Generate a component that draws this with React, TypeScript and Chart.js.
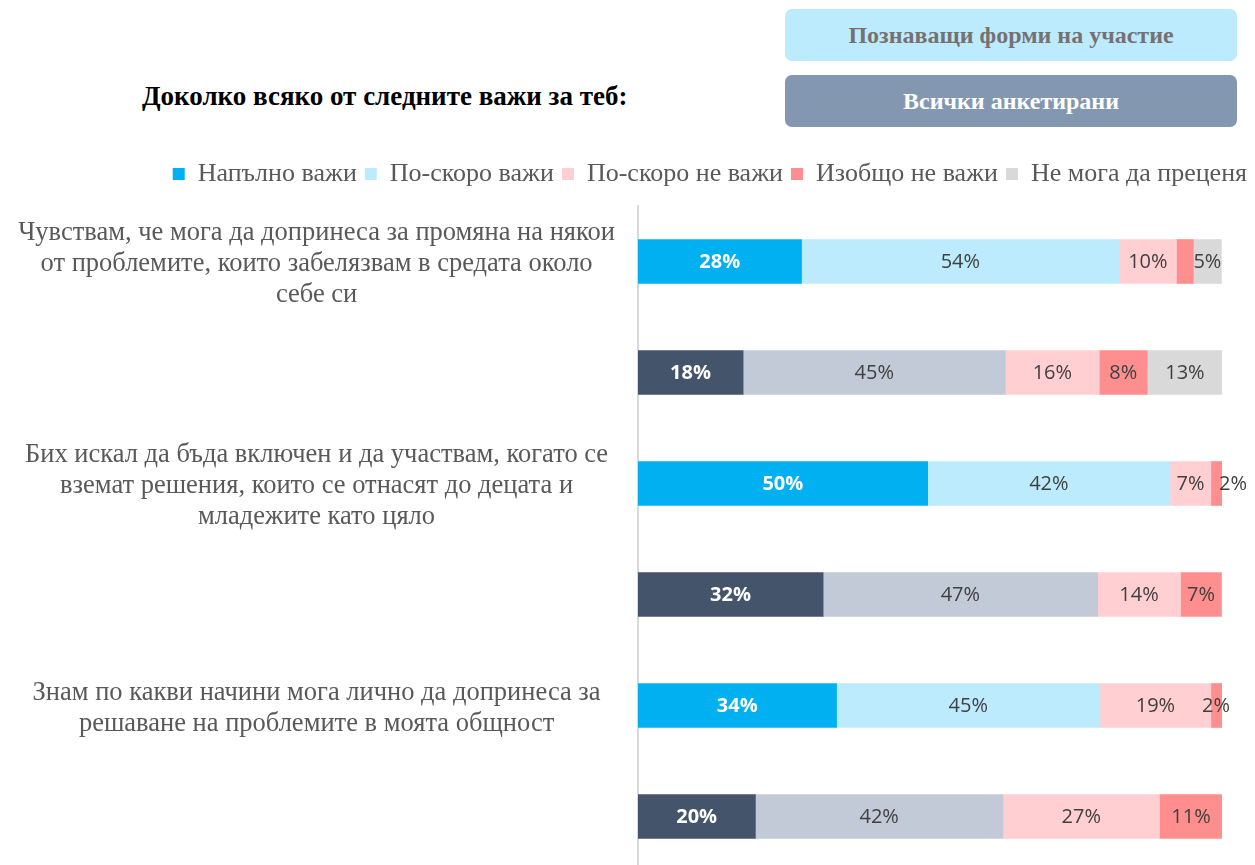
import React, { useEffect, useRef } from "react";
import { Chart, registerables } from "chart.js";

Chart.register(...registerables);

const categories: (string | string[])[] = [
  [
    "Чувствам, че мога да допринеса за промяна на някои",
    "от проблемите, които забелязвам в средата около",
    "себе си",
  ],
  "",
  [
    "Бих искал да бъда включен и да участвам, когато се",
    "вземат решения, които се отнасят до децата и",
    "младежите като цяло",
  ],
  "",
  [
    "Знам по какви начини мога лично да допринеса за",
    "решаване на проблемите в моята общност",
  ],
  "",
];

const seriesNames = [
  "Напълно важи",
  "По-скоро важи",
  "По-скоро не важи",
  "Изобщо не важи",
  "Не мога да преценя",
];

const fully = [28, 18, 49.6, 31.7, 34, 20.1];
const rather = [54.4, 44.9, 41.5, 47, 45.1, 42.4];
const ratherNot = [9.8, 16.1, 7, 14.2, 19, 26.8];
const notAtAll = [2.9, 8.2, 1.9, 7, 1.9, 10.8];
const cannotSay = [4.8, 12.9, 0, 0, 0, 0];

// labels not shown in the original: [datasetIndex, dataIndex]
const hiddenLabels: [number, number][] = [[3, 0]];

const headerTitle = "Доколко всяко от следните важи за теб:";
const groupA = "Познаващи форми на участие";
const groupB = "Всички анкетирани";

const fullyColors = ["#00B0F0", "#44546A"];
const ratherColors = ["#BDEBFE", "#C1CAD6"];

const SERIF = "'Liberation Serif', 'Times New Roman', serif";
const SANS = "'Open Sans', 'Noto Sans', sans-serif";

const labelPlugin = {
  id: "segLabels",
  afterDatasetsDraw(chart: any) {
    const ctx = chart.ctx;
    ctx.save();
    ctx.textBaseline = "middle";
    ctx.textAlign = "center";
    chart.data.datasets.forEach((ds: any, di: number) => {
      const meta = chart.getDatasetMeta(di);
      meta.data.forEach((el: any, i: number) => {
        const v = ds.data[i];
        if (!v) return;
        if (hiddenLabels.some(([a, b]) => a === di && b === i)) return;
        let cx = (el.x + el.base) / 2;
        const w = Math.abs(el.x - el.base);
        if (w < 14) cx = el.x + (di === 3 && i === 2 ? 11 : -6);
        ctx.font = di === 0 ? `bold 20px ${SANS}` : `20px ${SANS}`;
        ctx.fillStyle = di === 0 ? "#FFFFFF" : "#404040";
        ctx.fillText(Math.round(v) + "%", cx, el.y + 1);
      });
    });
    ctx.restore();
  },
};

export default function App() {
  const ref = useRef<HTMLCanvasElement | null>(null);

  useEffect(() => {
    if (!ref.current) return;
    const alt = (arr: string[]) => (c: any) => arr[(c.dataIndex ?? 0) % 2];
    const chart = new Chart(ref.current, {
      type: "bar",
      data: {
        labels: categories,
        datasets: [
          { label: seriesNames[0], data: fully, backgroundColor: alt(fullyColors) },
          { label: seriesNames[1], data: rather, backgroundColor: alt(ratherColors) },
          { label: seriesNames[2], data: ratherNot, backgroundColor: "#FFCFD1" },
          { label: seriesNames[3], data: notAtAll, backgroundColor: "#FF8F8F" },
          { label: seriesNames[4], data: cannotSay, backgroundColor: "#D9D9D9" },
        ],
      },
      options: {
        indexAxis: "y",
        responsive: false,
        animation: false,
        maintainAspectRatio: false,
        layout: { padding: 0 },
        datasets: { bar: { barThickness: 44, borderWidth: 0 } },
        plugins: {
          tooltip: { enabled: false },
          title: { display: false },
          legend: {
            position: "top",
            align: "end",
            labels: {
              boxWidth: 12,
              boxHeight: 12,
              padding: 8,
              color: "#595959",
              font: { family: SERIF, size: 26 },
            },
          },
        },
        scales: {
          x: {
            stacked: true,
            min: 0,
            max: 100,
            position: "top",
            display: true,
            grid: { display: false, drawTicks: false },
            border: { display: false },
            ticks: { display: false },
            afterFit(scale: any) {
              scale.height = 9;
              scale.paddingLeft = 0;
              scale.paddingRight = 0;
            },
          },
          y: {
            stacked: true,
            grid: { display: false, drawTicks: false },
            border: { display: true, color: "#D9D9D9", width: 2 },
            ticks: {
              crossAlign: "center",
              padding: 23,
              labelOffset: 3,
              color: "#595959",
              font: { family: SERIF, size: 26.5, lineHeight: 1.17 },
            },
            afterFit(scale: any) {
              scale.width = 638;
              scale.paddingTop = 0;
              scale.paddingBottom = 0;
            },
          },
          yRight: {
            type: "linear",
            position: "right",
            display: true,
            grid: { display: false, drawTicks: false },
            border: { display: false },
            ticks: { display: false },
            afterFit(scale: any) {
              scale.width = 33;
              scale.paddingTop = 0;
              scale.paddingBottom = 0;
            },
          },
        },
      },
      plugins: [labelPlugin],
    } as any);
    return () => chart.destroy();
  }, []);

  const box: React.CSSProperties = {
    position: "absolute",
    left: 785,
    width: 452,
    height: 52,
    borderRadius: 7,
    display: "flex",
    alignItems: "center",
    justifyContent: "center",
    fontFamily: SERIF,
    fontWeight: "bold",
    fontSize: 24,
  };

  return (
    <div
      style={{
        position: "absolute",
        left: 0,
        top: 0,
        width: 1255,
        height: 865,
        overflow: "hidden",
        background: "#FFFFFF",
      }}
    >
      <div
        style={{
          position: "absolute",
          left: 142,
          top: 80,
          fontFamily: SERIF,
          fontWeight: "bold",
          fontSize: 27,
          lineHeight: "32px",
          color: "#000000",
          whiteSpace: "nowrap",
        }}
      >
        {headerTitle}
      </div>
      <div style={{ ...box, top: 9, background: "#BDEBFE", color: "#767171" }}>{groupA}</div>
      <div style={{ ...box, top: 75, background: "#8497B0", color: "#FFFFFF" }}>{groupB}</div>
      <canvas
        ref={ref}
        width={1255}
        height={719}
        style={{ position: "absolute", left: 0, top: 153, width: 1255, height: 719 }}
      />
    </div>
  );
}
